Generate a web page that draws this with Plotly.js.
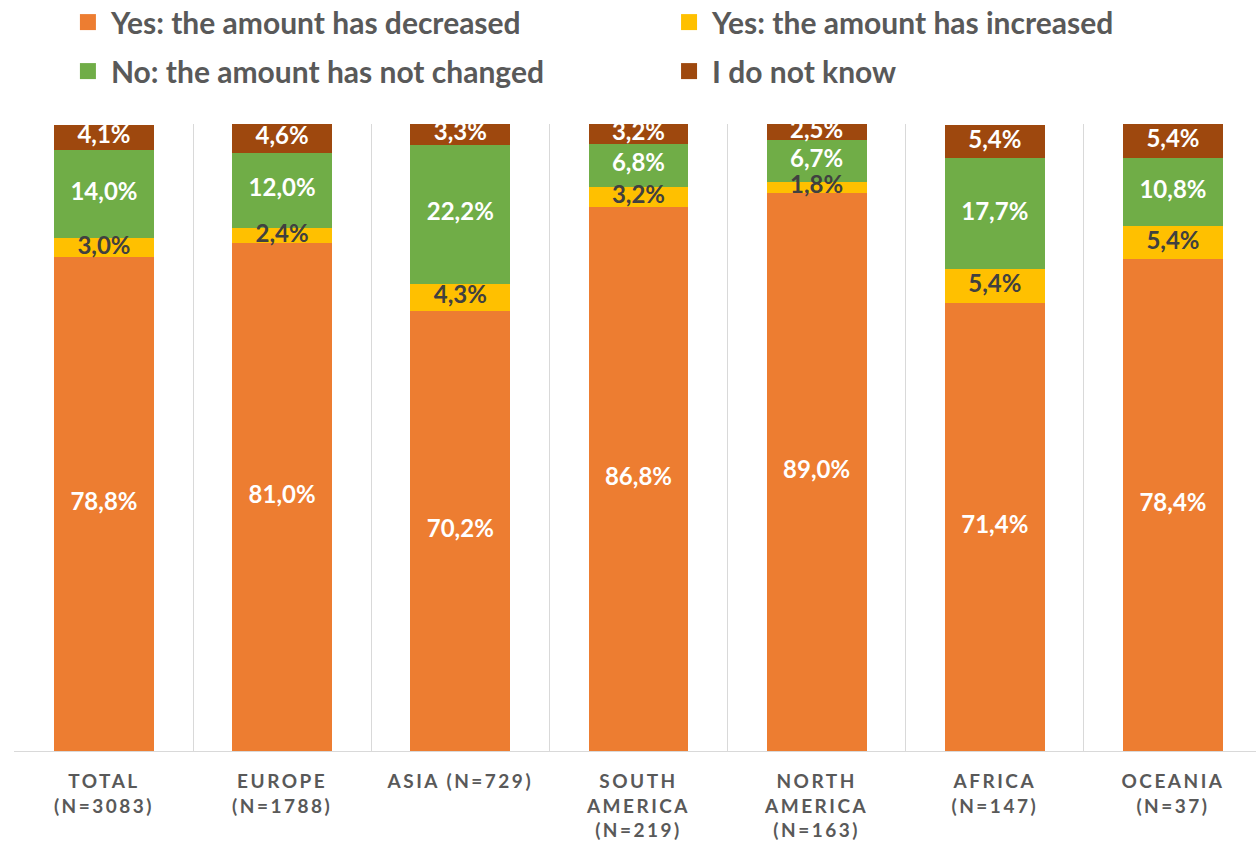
<!DOCTYPE html>
<html>
<head>
<meta charset="utf-8">
<script src="https://cdn.plot.ly/plotly-3.0.1.min.js"></script>
<style>
html, body { margin: 0; padding: 0; background: #fff; }
#chart { width: 1256px; height: 846px; }
.xtick text { letter-spacing: 2.5px; }
</style>
</head>
<body>
<div id="chart"></div>
<script>
const categories = ["TOTAL<br>(N=3083)", "EUROPE<br>(N=1788)", "ASIA (N=729)", "SOUTH<br>AMERICA<br>(N=219)", "NORTH<br>AMERICA<br>(N=163)", "AFRICA<br>(N=147)", "OCEANIA<br>(N=37)"];
const decreased  = [78.8, 81.0, 70.2, 86.8, 89.0, 71.4, 78.4];
const increased  = [3.0, 2.4, 4.3, 3.2, 1.8, 5.4, 5.4];
const notChanged = [14.0, 12.0, 22.2, 6.8, 6.7, 17.7, 10.8];
const dontKnow   = [4.1, 4.6, 3.3, 3.2, 2.5, 5.4, 5.4];
const seriesNames = ["Yes: the amount has decreased", "Yes: the amount has increased", "No: the amount has not changed", "I do not know"];

const series = [decreased, increased, notChanged, dontKnow];
const colors = ["#ED7D31", "#FFC000", "#70AD47", "#9E480E"];
const labelColors = ["#FFFFFF", "#404040", "#FFFFFF", "#FFFFFF"];
const legendOf = ["legend", "legend2", "legend", "legend2"];
const FONT = 'Lato, "Open Sans", sans-serif';
const fmt = v => v.toFixed(1).replace('.', ',') + '%';

const traces = [];
series.forEach((vals, i) => {
  traces.push({
    type: 'bar', x: categories, y: vals, name: seriesNames[i],
    marker: { color: colors[i], line: { width: 0 } },
    width: 0.56, hoverinfo: 'skip', showlegend: false
  });
});
// legend entries (square swatches)
series.forEach((vals, i) => {
  traces.push({
    type: 'scatter', mode: 'markers', x: [null], y: [null], name: seriesNames[i],
    marker: { color: colors[i], symbol: 'square', size: 16 },
    legend: legendOf[i], legendgroup: 'g' + i, showlegend: true, hoverinfo: 'skip'
  });
});
// labels centred in each segment
const cum = categories.map(() => 0);
series.forEach((vals, i) => {
  const mids = vals.map((v, k) => { const m = cum[k] + v / 2; cum[k] += v; return m; });
  traces.push({
    type: 'scatter', mode: 'text', x: categories, y: mids,
    text: vals.map(fmt), textposition: 'middle center',
    textfont: { family: FONT, size: 24, color: labelColors[i], weight: 'bold' },
    showlegend: false, hoverinfo: 'skip', cliponaxis: false
  });
});

const legendCommon = {
  orientation: 'v', xanchor: 'left', yanchor: 'top',
  font: { family: FONT, size: 30, color: '#595959', weight: 'bold' },
  traceorder: 'grouped', tracegroupgap: 7, itemwidth: 36,
  itemclick: false, itemdoubleclick: false,
  bgcolor: 'rgba(0,0,0,0)', borderwidth: 0
};

const layout = {
  width: 1256, height: 846,
  margin: { l: 14, r: 0, t: 124, b: 95, pad: 0, autoexpand: false },
  paper_bgcolor: '#ffffff', plot_bgcolor: '#ffffff',
  barmode: 'stack', bargap: 0.44,
  font: { family: FONT, color: '#595959' },
  xaxis: {
    type: 'category', range: [-0.505, 6.466],
    tickson: 'boundaries', showgrid: true, gridcolor: '#d9d9d9', gridwidth: 1,
    showline: true, linecolor: '#d9d9d9', linewidth: 1,
    ticks: '', ticklen: 0, ticklabelstandoff: 13,
    tickfont: { family: FONT, size: 19, color: '#595959', weight: 'bold' },
    fixedrange: true, automargin: false
  },
  yaxis: { range: [0, 100], visible: false, showgrid: false, zeroline: false, fixedrange: true },
  legend: Object.assign({}, legendCommon, { x: 0.041, y: 1.204 }),
  legend2: Object.assign({}, legendCommon, { x: 0.525, y: 1.204 }),
  showlegend: true
};

Plotly.newPlot('chart', traces, layout, { displayModeBar: false, staticPlot: true });
</script>
</body>
</html>
